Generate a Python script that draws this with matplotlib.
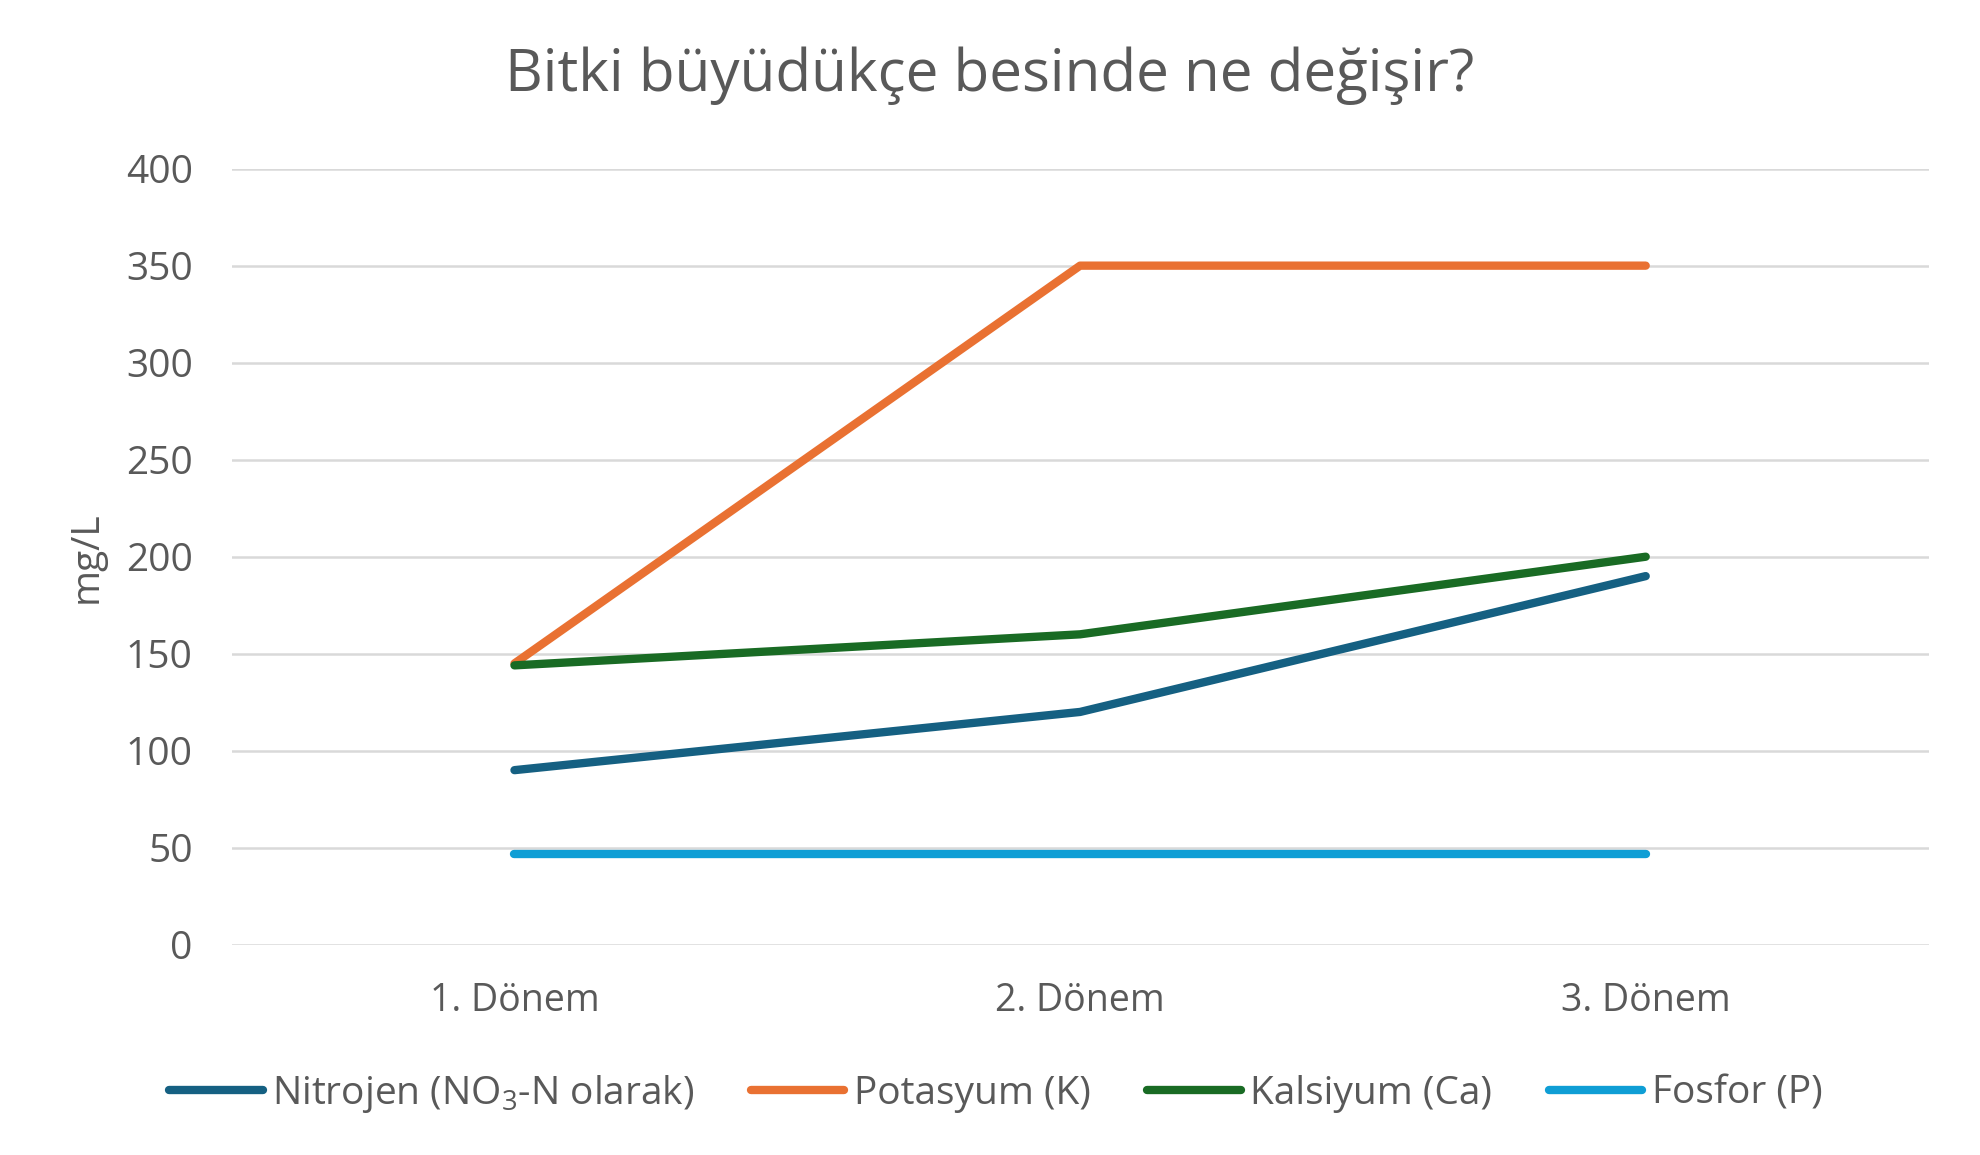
import matplotlib.pyplot as plt

plt.rcParams['font.family'] = ['Open Sans', 'DejaVu Sans']
plt.rcParams['mathtext.fontset'] = 'custom'
plt.rcParams['mathtext.rm'] = 'Open Sans'

# data
periods = ['1. Dönem', '2. Dönem', '3. Dönem']
nitrojen = [90, 120, 190]
potasyum = [145, 350, 350]
kalsiyum = [144, 160, 200]
fosfor = [47, 47, 47]
y_ticks = [0, 50, 100, 150, 200, 250, 300, 350, 400]

text_col = '#595959'

fig = plt.figure(figsize=(19.8, 11.55), dpi=100)
ax = fig.add_axes([0.117, 0.182, 0.857, 0.672])

x = range(len(periods))
ax.plot(x, nitrojen, color='#156082', lw=6, solid_capstyle='round', solid_joinstyle='round',
        label='Nitrojen (NO$_3$-N olarak)')
ax.plot(x, potasyum, color='#E97132', lw=6, solid_capstyle='round', solid_joinstyle='round',
        label='Potasyum (K)')
ax.plot(x, kalsiyum, color='#196B24', lw=6, solid_capstyle='round', solid_joinstyle='round',
        label='Kalsiyum (Ca)')
ax.plot(x, fosfor, color='#0F9ED5', lw=6, solid_capstyle='round', solid_joinstyle='round',
        label='Fosfor (P)')

ax.set_xlim(-0.5, 2.5)
ax.set_ylim(0, 400)
ax.set_xticks(list(x))
ax.set_xticklabels(periods, fontsize=27)
ax.set_yticks(y_ticks)
ax.tick_params(axis='both', length=0, labelcolor=text_col)
ax.tick_params(axis='y', labelsize=28, pad=28)
ax.tick_params(axis='x', pad=27)
ax.grid(axis='y', color='#D9D9D9', lw=1.8)
ax.set_axisbelow(True)
for s in ax.spines.values():
    s.set_visible(False)

ax.set_ylabel('mg/L', fontsize=28, color=text_col)
ax.yaxis.set_label_coords(-0.074, 0.5)

fig.text(0.5, 0.934, 'Bitki büyüdükçe besinde ne değişir?', ha='center', va='center',
         fontsize=42, color=text_col)

fig.legend(loc='center', bbox_to_anchor=(0.503, 0.053), ncol=4, frameon=False,
           fontsize=28, labelcolor=text_col, handlelength=2.4, handletextpad=0.25,
           columnspacing=1.45)

fig.savefig('out.png', dpi=100)
